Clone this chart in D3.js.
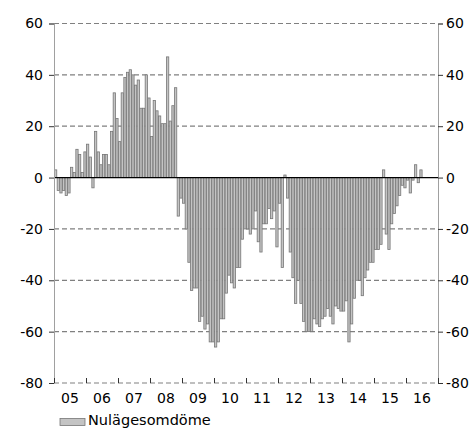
<!DOCTYPE html>
<html>
<head>
<meta charset="utf-8">
<script src="https://cdn.jsdelivr.net/npm/d3@7"></script>
<style>
  body { margin: 0; background: #fff; }
  svg text { font-family: "DejaVu Sans", Verdana, sans-serif; }
</style>
</head>
<body>
<div id="chart"></div>
<script>
// year labels on the x axis (2005 - 2016)
const yearLabels = ["05", "06", "07", "08", "09", "10", "11", "12", "13", "14", "15", "16"];
const yTicks = [60, 40, 20, 0, -20, -40, -60, -80];
const seriesName = "Nulägesomdöme";

// monthly values, Jan 2005 onwards
const v2005 = [3, -5, -6, -5, -7, -6, 4, 2, 11, 9, 2, 10];
const v2006 = [13, 8, -4, 18, 10, 5, 9, 9, 5, 18, 33, 23];
const v2007 = [14, 33, 39, 41, 42, 40, 36, 38, 27, 27, 40, 31];
const v2008 = [16, 30, 26, 24, 21, 21, 47, 22, 28, 35, -15, -8];
const v2009 = [-10, -20, -33, -44, -43, -43, -56, -54, -59, -57, -64, -64];
const v2010 = [-66, -64, -55, -55, -45, -38, -41, -43, -35, -35, -24, -20];
const v2011 = [-20, -22, -20, -13, -25, -29, -18, -18, -12, -16, -13, -27];
const v2012 = [-10, -35, 1, -8, -29, -39, -49, -40, -49, -56, -60, -60];
const v2013 = [-60, -55, -57, -58, -55, -54, -51, -54, -57, -50, -51, -52];
const v2014 = [-52, -48, -64, -57, -47, -40, -40, -46, -39, -36, -33, -33];
const v2015 = [-28, -28, -26, 3, -22, -28, -18, -14, -11, -7, -3, -4];
const v2016 = [-1, -6, -1, 5, -2, 3];

const values = [].concat(v2005, v2006, v2007, v2008, v2009, v2010,
                         v2011, v2012, v2013, v2014, v2015, v2016);

const W = 475, H = 428;
const plot = { left: 54, right: 438, top: 23.5, bottom: 383 };

const svg = d3.select("#chart")
    .append("svg")
    .attr("width", W)
    .attr("height", H);

const months = d3.range(yearLabels.length * 12);

var x = d3.scaleBand()
    .domain(months)
    .range([plot.left, plot.right])
    .padding(0);

var xYear = d3.scaleLinear()
    .domain([0, yearLabels.length])
    .range([plot.left, plot.right]);

var y = d3.scaleLinear()
    .domain([-80, 60])
    .range([plot.bottom, plot.top]);

// plain hyphen for negatives, like the original
const fmt = d => String(d);

// dashed gridlines
svg.append("g")
  .selectAll("line")
  .data(yTicks.filter(d => d !== 0))
  .enter()
  .append("line")
    .attr("x1", plot.left)
    .attr("x2", plot.right)
    .attr("y1", d => y(d))
    .attr("y2", d => y(d))
    .attr("stroke", "#808080")
    .attr("stroke-width", 1.2)
    .attr("stroke-dasharray", "5,3");

// bars
svg.append("g")
  .selectAll("rect")
  .data(values)
  .enter()
  .append("rect")
    .attr("x", (d, i) => x(i) + 0.5)
    .attr("width", x.bandwidth() - 0.4)
    .attr("y", d => y(Math.max(d, 0)))
    .attr("height", d => Math.abs(y(d) - y(0)))
    .attr("fill", "#c4c4c4")
    .attr("stroke", "#777")
    .attr("stroke-width", 0.8);

// zero line
svg.append("line")
    .attr("x1", plot.left)
    .attr("x2", plot.right)
    .attr("y1", y(0))
    .attr("y2", y(0))
    .attr("stroke", "#000")
    .attr("stroke-width", 1.2);

// left / right axes
const axL = svg.append("g")
    .attr("transform", `translate(${plot.left},0)`)
    .call(d3.axisLeft(y).tickValues(yTicks).tickSize(5).tickPadding(6).tickFormat(fmt));
const axR = svg.append("g")
    .attr("transform", `translate(${plot.right},0)`)
    .call(d3.axisRight(y).tickValues(yTicks).tickSize(5).tickPadding(3).tickFormat(fmt));

[axL, axR].forEach(ax => {
    ax.select(".domain").attr("stroke", "#a0a0a0");
    ax.selectAll(".tick line").attr("stroke", "#333");
    ax.selectAll("text").attr("font-size", 14).attr("fill", "#000")
        .attr("font-family", "DejaVu Sans, Verdana, sans-serif");
});

// bottom axis: year boundary ticks
const axB = svg.append("g")
    .attr("transform", `translate(0,${plot.bottom})`)
    .call(d3.axisBottom(xYear).tickValues(d3.range(yearLabels.length + 1)).tickSize(-5).tickFormat(""));
axB.select(".domain").remove();
axB.selectAll(".tick line").attr("stroke", "#333");

// year labels between ticks
svg.append("g")
  .selectAll("text")
  .data(yearLabels)
  .enter()
  .append("text")
    .attr("x", (d, i) => xYear(i + 0.5))
    .attr("y", plot.bottom + 20)
    .attr("text-anchor", "middle")
    .attr("font-size", 14)
    .attr("fill", "#000")
    .text(d => d);

// legend
svg.append("rect")
    .attr("x", 60)
    .attr("y", 418.5)
    .attr("width", 25)
    .attr("height", 7)
    .attr("fill", "#c4c4c4")
    .attr("stroke", "#777")
    .attr("stroke-width", 0.8);
svg.append("text")
    .attr("x", 88)
    .attr("y", 424.5)
    .attr("font-size", 14.5)
    .attr("fill", "#000")
    .text(seriesName);
</script>
</body>
</html>
